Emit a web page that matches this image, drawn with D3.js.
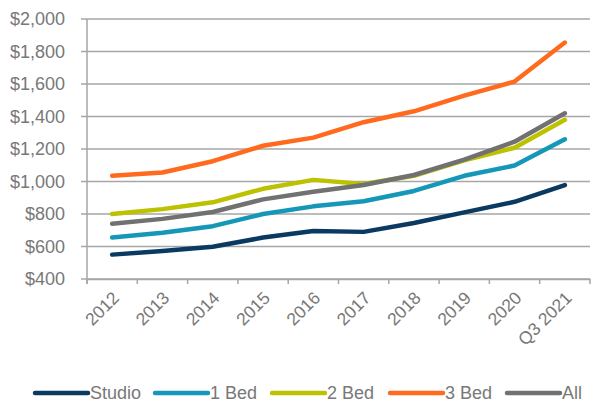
<!DOCTYPE html>
<html>
<head>
<meta charset="utf-8">
<script src="https://cdn.jsdelivr.net/npm/d3@7"></script>
<style>
	body{margin:0;background:#fff;}
	svg text{font-family:"Liberation Sans", Arial, sans-serif;fill:#787878;}
</style>
</head>
<body>
<div id="chart"></div>
<script>
//data
var categories = ["2012","2013","2014","2015","2016","2017","2018","2019","2020","Q3 2021"];
var studio = [550, 572, 598, 655, 695, 690, 745, 810, 875, 978];
var oneBed = [655, 685, 725, 800, 847, 878, 942, 1035, 1098, 1260];
var twoBed = [800, 830, 872, 955, 1010, 985, 1035, 1130, 1208, 1380];
var threeBed = [1035, 1055, 1125, 1220, 1270, 1365, 1432, 1528, 1615, 1855];
var allUnits = [740, 770, 812, 890, 937, 978, 1040, 1135, 1245, 1420];
var seriesNames = ["Studio", "1 Bed", "2 Bed", "3 Bed", "All"];
var seriesColors = ["#0a3a61", "#1598b8", "#bcc100", "#ff6a1f", "#717171"];
var yTicks = [400, 600, 800, 1000, 1200, 1400, 1600, 1800, 2000];

var series = [studio, oneBed, twoBed, threeBed, allUnits];

var width = 592, height = 402,
	margin = {top: 19, right: 2, bottom: 123, left: 87};

var svg = d3.select("#chart").append("svg")
	.attr("width", width)
	.attr("height", height);

var x = d3.scaleBand()
	.domain(categories)
	.range([margin.left, width - margin.right]);

var y = d3.scaleLinear()
	.domain([400, 2000])
	.range([height - margin.bottom, margin.top]);

//gridlines
svg.append("g")
	.selectAll("line")
	.data(yTicks)
	.enter()
	.append("line")
	.attr("x1", margin.left - 6)
	.attr("x2", width - margin.right)
	.attr("y1", function(d){ return y(d); })
	.attr("y2", function(d){ return y(d); })
	.attr("stroke", "#a6a6a6")
	.attr("stroke-width", 1.5);

//y labels
svg.append("g")
	.selectAll("text")
	.data(yTicks)
	.enter()
	.append("text")
	.attr("x", margin.left - 22)
	.attr("y", function(d){ return y(d); })
	.attr("dy", "0.36em")
	.attr("text-anchor", "end")
	.style("font-size", "18px")
	.text(function(d){ return "$" + d3.format(",")(d); });

//y axis line
svg.append("line")
	.attr("x1", margin.left).attr("x2", margin.left)
	.attr("y1", margin.top).attr("y2", y(400) + 5)
	.attr("stroke", "#a6a6a6")
	.attr("stroke-width", 1.5);

//x axis
var xAxis = svg.append("g")
	.attr("transform", "translate(0," + y(400) + ")")
	.call(d3.axisBottom(x).tickSize(0).tickFormat(""));
xAxis.select(".domain").attr("stroke", "#a6a6a6").attr("stroke-width", 1.5);

var bounds = categories.map(function(c){ return x(c); }).concat([width - margin.right]);
xAxis.selectAll(".sep")
	.data(bounds)
	.enter()
	.append("line")
	.attr("class", "sep")
	.attr("x1", function(d){ return d; })
	.attr("x2", function(d){ return d; })
	.attr("y1", 0).attr("y2", 5)
	.attr("stroke", "#a6a6a6")
	.attr("stroke-width", 1.5);

xAxis.selectAll(".lbl")
	.data(categories)
	.enter()
	.append("text")
	.attr("class", "lbl")
	.attr("text-anchor", "end")
	.style("font-size", "17.5px")
	.attr("transform", function(d){
		return "translate(" + (x(d) + x.bandwidth() / 2 + 8) + ",20) rotate(-45)";
	})
	.text(function(d){ return d; });

//lines
var line = d3.line()
	.x(function(d, i){ return x(categories[i]) + x.bandwidth() / 2; })
	.y(function(d){ return y(d); });

svg.append("g")
	.selectAll("path")
	.data(series)
	.enter()
	.append("path")
	.attr("d", line)
	.attr("fill", "none")
	.attr("stroke", function(d, i){ return seriesColors[i]; })
	.attr("stroke-width", 4.5)
	.attr("stroke-linecap", "round")
	.attr("stroke-linejoin", "round");

//legend
var legendX = [35, 155, 272, 390, 507];
var legend = svg.append("g")
	.selectAll("g")
	.data(seriesNames)
	.enter()
	.append("g")
	.attr("transform", function(d, i){ return "translate(" + legendX[i] + ",393)"; });

legend.append("line")
	.attr("x1", 0).attr("x2", 53)
	.attr("y1", 0).attr("y2", 0)
	.attr("stroke", function(d, i){ return seriesColors[i]; })
	.attr("stroke-width", 4.5)
	.attr("stroke-linecap", "round");

legend.append("text")
	.attr("x", 55)
	.attr("dy", "0.36em")
	.style("font-size", "18px")
	.text(function(d){ return d; });
</script>
</body>
</html>
